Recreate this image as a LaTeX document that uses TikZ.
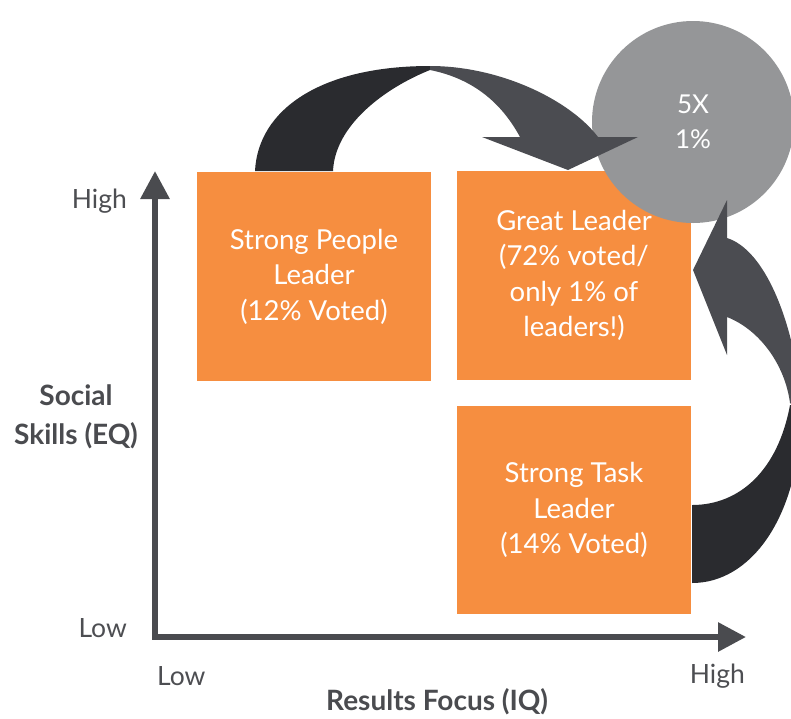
\documentclass[tikz,border=0pt]{standalone}
\usepackage{fontspec}
\setmainfont{Lato}
\usetikzlibrary{arrows.meta}
\definecolor{quadorange}{HTML}{F68E40}
\definecolor{axisgray}{HTML}{4A4B4F}
\definecolor{labelgray}{HTML}{4D4E52}
\definecolor{circlegray}{HTML}{959698}
\definecolor{arrowdark}{HTML}{2A2B2F}
\definecolor{arrowlight}{HTML}{4B4C51}
\tikzstyle{quad} = [rectangle, fill=quadorange, text=white, align=center, inner sep=0pt, font=\fontsize{27.5}{35.5}\selectfont]
\tikzstyle{axis} = [line width=6pt, draw=axisgray, {Triangle[width=28pt,length=28pt]}-{Triangle[width=28pt,length=28pt]}]
\tikzstyle{tick} = [text=labelgray, inner sep=0pt, font=\fontsize{26.5}{30}\selectfont]
\tikzstyle{title} = [text=axisgray, inner sep=0pt, align=center, font=\fontsize{28}{39}\selectfont\bfseries]

\begin{document}
\begin{tikzpicture}[x=1pt, y=-1pt]
        \useasboundingbox (0,0) rectangle (791,718);
        \clip (0,0) rectangle (791,718);
        % Quadrants
        \node[quad, minimum width=234pt, minimum height=209pt] (people) at (314,276.5) {Strong People\\Leader\\(12\% Voted)};
        \node[quad, minimum width=234pt, minimum height=209pt] (great) at (574,275.5) {Great Leader\\(72\% voted/\\only 1\% of\\leaders!)};
        \node[quad, minimum width=234pt, minimum height=208pt] (task) at (574,510) {Strong Task\\Leader\\(14\% Voted)};
        \node[circle, fill=circlegray, text=white, align=center, inner sep=0pt, minimum size=202pt, font=\fontsize{26}{35}\selectfont] (top) at (693,122) {5X\\1\%};

        % Axes
        \coordinate (ytip) at (155,171);
        \coordinate (origin) at (155,637);
        \coordinate (xtip) at (746,637);
        \draw[axis] (ytip) -- (origin) -- (xtip);

        \node[tick, anchor=east] (yhigh) at (127,201) {High};
        \node[tick, anchor=east] (ylow) at (127,628) {Low};
        \node[tick, anchor=west] (xlow) at (157,676) {Low};
        \node[tick, anchor=east] (xhigh) at (745,676) {High};
        \node[title] (ylabel) at (76,417) {Social\\Skills (EQ)};
        \node[title] (xlabel) at (437,702) {Results Focus (IQ)};

        % Curved arrow: people -> great
        \fill[arrowdark] (255,171) .. controls (258,110) and (320,66) .. (430,66)
            -- (430,70) .. controls (385,88) and (335,125) .. (333,171) -- cycle;
        \fill[arrowlight] (430,66) .. controls (500,66) and (570,100) .. (598,137)
            -- (638,137) -- (568,170) -- (482,137) -- (520,137)
            .. controls (500,100) and (470,78) .. (430,70) -- cycle;

        % Curved arrow: task -> great
        \fill[arrowdark] (790,405) -- (800,405) -- (800,430)
            .. controls (795,520) and (750,583) .. (692,583) -- (692,505)
            .. controls (740,505) and (778,470) .. (790,405) -- cycle;
        \fill[arrowlight] (727,317) -- (727,355) -- (693,270) -- (727,200) -- (727,238)
            .. controls (765,250) and (792,320) .. (800,390) -- (800,410) -- (790,403)
            .. controls (785,365) and (760,330) .. (727,317) -- cycle;
\end{tikzpicture}
\end{document}
